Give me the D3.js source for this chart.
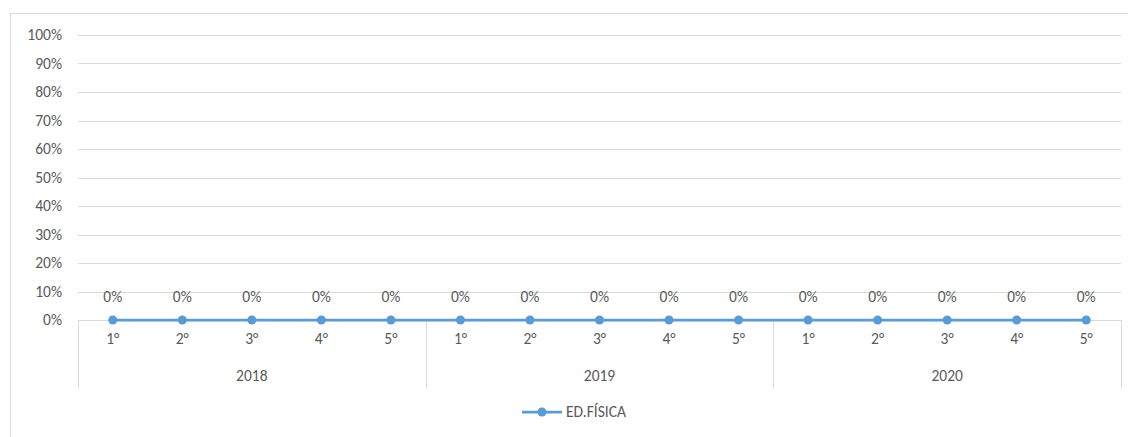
<!DOCTYPE html>
<html><head><meta charset="utf-8">
<script src="https://cdn.jsdelivr.net/npm/d3@7"></script>
<style>body{margin:0;background:#fff}svg{display:block}text{font-family:Calibri,Carlito,"Open Sans","Liberation Sans",sans-serif;fill:#595959}</style>
</head><body><svg id="c" width="1128" height="437"></svg>
<script>
const years = ["2018","2019","2020"];
const grades = ["1°","2°","3°","4°","5°"];
const values = [0,0,0,0,0, 0,0,0,0,0, 0,0,0,0,0];
const yTicks = [0,0.1,0.2,0.3,0.4,0.5,0.6,0.7,0.8,0.9,1];
const seriesName = "ED.FÍSICA";

(function(){
const svg = d3.select("#c");
const color = "#5B9BD5";
const fs = 15.5;
const pLeft = 78, pRight = 1121, pTop = 35, pBottom = 320;
const cats = [];
years.forEach(yr => grades.forEach(g => cats.push({year:yr, grade:g, key:yr+"-"+g})));
const x = d3.scaleBand().domain(cats.map(d=>d.key)).range([pLeft,pRight]);
const y = d3.scaleLinear().domain([0,1]).range([pBottom,pTop]);

svg.append("rect").attr("x",10.5).attr("y",13.5).attr("width",1130).attr("height",440)
  .attr("fill","none").attr("stroke","#d9d9d9");

svg.append("g").selectAll("line").data(yTicks.filter(t=>t>0)).join("line")
  .attr("x1",pLeft).attr("x2",pRight).attr("y1",d=>Math.round(y(d))+0.5).attr("y2",d=>Math.round(y(d))+0.5)
  .attr("stroke","#d9d9d9");
svg.append("g").selectAll("text").data(yTicks).join("text")
  .attr("x",pLeft-16).attr("y",d=>y(d)).attr("dy","0.35em").attr("text-anchor","end")
  .attr("font-size",fs).text(d=>d3.format(".0%")(d));

svg.append("line").attr("x1",pLeft).attr("x2",pRight).attr("y1",pBottom+0.5).attr("y2",pBottom+0.5).attr("stroke","#d9d9d9");
const bw = x.bandwidth();
const seps = [0,5,10,15].map(i => pLeft + i*bw);
svg.append("g").selectAll("line").data(seps).join("line")
  .attr("x1",d=>Math.round(d)+0.5).attr("x2",d=>Math.round(d)+0.5).attr("y1",pBottom).attr("y2",388)
  .attr("stroke","#d9d9d9");
svg.append("g").selectAll("text").data(cats).join("text")
  .attr("x",d=>x(d.key)+bw/2).attr("y",339).attr("dy","0.35em").attr("text-anchor","middle")
  .attr("font-size",fs).text(d=>d.grade);
svg.append("g").selectAll("text").data(years).join("text")
  .attr("x",(d,i)=>pLeft + (i*5+2.5)*bw).attr("y",376).attr("dy","0.35em").attr("text-anchor","middle")
  .attr("font-size",fs).text(d=>d);

const pts = cats.map((c,i)=>({c, v:values[i]}));
svg.append("path").datum(pts).attr("fill","none").attr("stroke",color).attr("stroke-width",2.75)
  .attr("d", d3.line().x(d=>x(d.c.key)+bw/2).y(d=>y(d.v)));
svg.append("g").selectAll("circle").data(pts).join("circle")
  .attr("cx",d=>x(d.c.key)+bw/2).attr("cy",d=>y(d.v)).attr("r",4.5).attr("fill",color);
svg.append("g").selectAll("text").data(pts).join("text")
  .attr("x",d=>x(d.c.key)+bw/2).attr("y",d=>y(d.v)-23).attr("dy","0.35em").attr("text-anchor","middle")
  .attr("font-size",fs).text(d=>d3.format(".0%")(d.v));

const lg = svg.append("g").attr("transform","translate(522,412)");
lg.append("line").attr("x1",0).attr("x2",40).attr("stroke",color).attr("stroke-width",2.75);
lg.append("circle").attr("cx",20).attr("r",4.5).attr("fill",color);
lg.append("text").attr("x",44).attr("dy","0.35em").attr("font-size",fs).text(seriesName);
})();
</script></body></html>
